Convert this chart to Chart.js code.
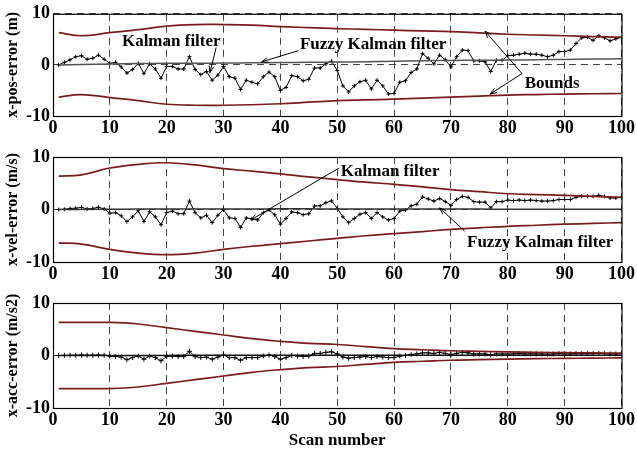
<!DOCTYPE html>
<html>
<head>
<meta charset="utf-8">
<script src="https://cdn.jsdelivr.net/npm/chart.js@4.4.0/dist/chart.umd.min.js"></script>
<style>
  body { margin: 0; background: #fff; }
  .panel { position: absolute; left: 0; width: 637px; }
</style>
</head>
<body>
<div class="panel" style="top:0;height:140px"><canvas id="pos"></canvas></div>
<div class="panel" style="top:140px;height:145px"><canvas id="vel"></canvas></div>
<div class="panel" style="top:285px;height:166px"><canvas id="acc"></canvas></div>
<script>
// scan index of every filter sample
var scans = [1,2,3,4,5,6,7,8,9,10,11,12,13,14,15,16,17,18,19,20,
  21,22,23,24,25,26,27,28,29,30,31,32,33,34,35,36,37,38,39,40,
  41,42,43,44,45,46,47,48,49,50,51,52,53,54,55,56,57,58,59,60,
  61,62,63,64,65,66,67,68,69,70,71,72,73,74,75,76,77,78,79,80,
  81,82,83,84,85,86,87,88,89,90,91,92,93,94,95,96,97,98,99,100];

// bounds and fuzzy estimates are smooth, sampled every 5 scans
var boundScans = [1,5,10,15,20,25,30,35,40,45,50,55,60,65,70,75,80,85,90,95,100];

var xTicks = [0,10,20,30,40,50,60,70,80,90,100];
var yTicks = [-10,0,10];

// position error (m)
var posKalman = [0,0.5,1.0,1.6,1.8,1.1,1.3,1.9,1.1,0.3,0.5,-0.4,-1.6,-0.9,0.3,-1.7,0.2,-0.8,-2.6,-0.3,
  -0.3,-0.8,-0.8,1.6,-0.9,-1.9,-1.3,-3.0,-2.0,-0.3,-2.3,-2.6,-4.8,-3.0,-3.4,-3.7,-2.3,-1.4,-2.3,-5.0,
  -4.4,-2.1,-2.3,-3.1,-2.8,-0.6,-0.6,0.2,0.7,-1.1,-4.1,-5.3,-4.1,-3.3,-3.0,-4.7,-3.0,-4.1,-5.7,-5.6,
  -3.4,-3.1,-1.5,-0.8,2.2,1.3,0.2,1.9,1.0,-0.4,1.6,2.9,2.8,0.8,0.8,0.6,-1.3,0.9,0.9,1.8,
  1.9,2.1,2.3,2.1,2.1,1.9,1.6,1.9,2.6,2.6,2.9,4.2,5.3,5.4,4.8,5.7,5.3,4.7,5.1,5.4];
var posFuzzy = [0,0.08,0.18,0.25,0.3,0.33,0.35,0.4,0.45,0.5,0.55,0.62,0.7,0.8,0.88,0.92,0.95,1.0,1.08,1.15,1.2];
var posUpper = [6.3,5.7,6.3,6.9,7.6,7.9,7.9,7.8,7.5,7.3,7.1,6.95,6.8,6.65,6.5,6.25,6.0,5.85,5.7,5.55,5.4];
var posLower = [-6.3,-5.8,-6.4,-7.0,-7.7,-7.9,-7.9,-7.8,-7.6,-7.3,-7.0,-6.85,-6.7,-6.5,-6.3,-6.1,-5.9,-5.8,-5.7,-5.65,-5.6];

// velocity error (m/s)
var velKalman = [0,0.05,0.2,0.25,0.4,0.1,0.2,0.45,0.1,-0.7,-0.6,-1.2,-2.3,-1.4,-0.25,-2.3,-0.45,-1.4,-2.9,-0.6,
  -0.3,-0.8,-0.8,1.6,-0.6,-1.6,-1.1,-2.5,-1.1,0,-1.6,-1.7,-3.4,-1.6,-1.8,-2.0,-0.6,-0.1,-1.0,-2.8,
  -1.7,-0.45,-0.6,-1.0,-0.8,0.65,0.7,1.3,1.65,0.2,-1.4,-2.5,-1.7,-0.9,-0.6,-1.7,-0.6,-1.4,-2.0,-1.7,
  -0.3,-0.1,0.7,1.0,2.4,2.0,1.6,2.1,1.5,0.8,1.9,2.5,2.3,1.5,1.4,1.4,0.3,1.5,1.5,1.8,
  1.7,1.8,1.7,1.8,1.7,1.6,1.6,1.7,1.9,1.9,1.9,2.35,2.5,2.5,2.5,2.7,2.5,2.2,2.2,2.35];
var velFuzzy = [0,0.02,0.05,0.08,0.1,0.1,0.1,0.1,0.12,0.12,0.1,0.1,0.1,0.08,0.08,0.08,0.05,0.05,0.05,0.05,0.05];
var velUpper = [6.35,6.6,7.9,8.6,8.9,8.5,7.8,7.3,6.8,6.2,5.7,5.2,4.8,4.3,3.8,3.4,3.0,2.85,2.7,2.5,2.3];
var velLower = [-6.35,-6.6,-7.6,-8.3,-8.6,-8.3,-7.6,-7.0,-6.5,-6.0,-5.5,-5.0,-4.6,-4.2,-3.8,-3.5,-3.2,-3.0,-2.8,-2.65,-2.5];

// acceleration error (m/s2)
var accKalman = [0,0.02,0.05,0.05,0.1,0.05,0.05,0.1,0.05,-0.1,-0.2,-0.3,-0.8,-0.4,-0.1,-0.7,-0.1,-0.4,-1.0,-0.2,
  -0.1,-0.2,-0.2,0.8,-0.2,-0.4,-0.3,-0.7,-0.3,0.1,-0.4,-0.4,-0.9,-0.4,-0.4,-0.4,-0.1,0.1,-0.2,-0.7,
  -0.4,0,-0.1,-0.2,-0.1,0.4,0.4,0.6,0.7,0.3,-0.3,-0.5,-0.4,-0.3,-0.2,-0.4,-0.2,-0.3,-0.4,-0.4,
  -0.1,0,0.2,0.3,0.5,0.5,0.4,0.6,0.4,0.2,0.4,0.6,0.5,0.3,0.3,0.3,0.1,0.3,0.3,0.3,
  0.3,0.35,0.3,0.3,0.3,0.3,0.25,0.3,0.35,0.3,0.3,0.35,0.35,0.35,0.35,0.4,0.35,0.3,0.3,0.35];
var accFuzzy = [0,0,0,0.02,0.02,0.03,0.03,0.05,0.05,0.05,0.05,0.05,0.05,0.05,0.05,0.05,0.05,0.05,0.05,0.05,0.05];
var accUpper = [6.3,6.3,6.3,6.0,5.3,4.6,3.9,3.2,2.7,2.3,2.1,1.7,1.3,1.1,0.9,0.8,0.7,0.6,0.55,0.5,0.45];
var accLower = [-6.3,-6.3,-6.3,-6.0,-5.3,-4.6,-3.9,-3.2,-2.7,-2.3,-2.1,-1.7,-1.3,-1.1,-0.9,-0.8,-0.7,-0.6,-0.55,-0.5,-0.45];

var serif = '"Liberation Serif", "Times New Roman", serif';
var boundColor = '#7a1c1c';

function pts(xs, ys) {
  return ys.map(function(v, i) { return {x: xs[i], y: v}; });
}

// frame around the plot area, text labels and arrows (given in data units)
var notesPlugin = {
  id: 'notes',
  afterDraw: function(chart) {
    var o = chart.options.plugins.notes || {};
    var ctx = chart.ctx, a = chart.chartArea;
    var sx = chart.scales.x, sy = chart.scales.y;
    ctx.save();
    ctx.strokeStyle = '#000';
    ctx.lineWidth = 1.2;
    ctx.strokeRect(a.left + 0.5, a.top + 0.5, a.right - a.left, a.bottom - a.top);
    ctx.lineWidth = 1;
    (o.arrows || []).forEach(function(ar) {
      var x1 = sx.getPixelForValue(ar[0]), y1 = sy.getPixelForValue(ar[1]);
      var x2 = sx.getPixelForValue(ar[2]), y2 = sy.getPixelForValue(ar[3]);
      var ang = Math.atan2(y2 - y1, x2 - x1);
      ctx.beginPath();
      ctx.moveTo(x1, y1);
      ctx.lineTo(x2, y2);
      ctx.moveTo(x2 - 7 * Math.cos(ang - 0.35), y2 - 7 * Math.sin(ang - 0.35));
      ctx.lineTo(x2, y2);
      ctx.lineTo(x2 - 7 * Math.cos(ang + 0.35), y2 - 7 * Math.sin(ang + 0.35));
      ctx.stroke();
    });
    ctx.font = 'bold 17px ' + serif;
    ctx.fillStyle = '#000';
    ctx.textAlign = 'center';
    ctx.textBaseline = 'middle';
    (o.labels || []).forEach(function(l) {
      ctx.fillText(l[0], sx.getPixelForValue(l[1]), sy.getPixelForValue(l[2]));
    });
    ctx.restore();
  }
};

function makeChart(id, c) {
  var datasets = [
    {data: pts(boundScans, c.upper), borderColor: boundColor, borderWidth: 1.7, pointRadius: 0, tension: 0.4},
    {data: pts(boundScans, c.lower), borderColor: boundColor, borderWidth: 1.7, pointRadius: 0, tension: 0.4},
    {data: pts(boundScans, c.fuzzy), borderColor: c.fuzzyColor, borderWidth: 1.5, pointRadius: 0, tension: 0.4},
    {data: pts(scans, c.kalman), borderColor: '#000', borderWidth: 1, pointStyle: 'cross',
     pointRadius: c.markerSize, pointBorderColor: '#000', pointBorderWidth: 1}
  ];
  return new Chart(document.getElementById(id), {
    type: 'scatter',
    data: {datasets: datasets},
    options: {
      responsive: true,
      maintainAspectRatio: false,
      animation: false,
      showLine: true,
      layout: {padding: {top: c.padTop, right: 12, left: 0, bottom: 0}},
      plugins: {
        legend: {display: false},
        tooltip: {enabled: false},
        notes: {labels: c.labels, arrows: c.arrows}
      },
      scales: {
        x: {
          type: 'linear', min: 0, max: 100,
          afterBuildTicks: function(s) { s.ticks = xTicks.map(function(v) { return {value: v}; }); },
          afterFit: function(s) { s.height = c.xHeight; },
          ticks: {color: '#000', padding: 2, maxRotation: 0, font: {family: serif, size: 18, weight: 'bold'}},
          grid: {color: '#444', lineWidth: 1, drawTicks: false},
          border: {display: false, dash: [7, 5]},
          title: {display: !!c.xTitle, text: c.xTitle, color: '#000', padding: {top: 3, bottom: 0},
                  font: {family: serif, size: 17, weight: 'bold'}}
        },
        y: {
          min: -10, max: 10,
          afterBuildTicks: function(s) { s.ticks = yTicks.map(function(v) { return {value: v}; }); },
          afterFit: function(s) { s.width = 53; },
          ticks: {color: '#000', padding: 3, font: {family: serif, size: 18, weight: 'bold'}},
          grid: {color: '#444', lineWidth: 1, drawTicks: false},
          border: {display: false, dash: [7, 5]},
          title: {display: true, text: c.yTitle, color: '#000', padding: {top: 3, bottom: 0},
                  font: {family: serif, size: 16, weight: 'bold'}}
        }
      }
    },
    plugins: [notesPlugin]
  });
}

makeChart('pos', {
  kalman: posKalman, fuzzy: posFuzzy, upper: posUpper, lower: posLower,
  fuzzyColor: '#555', markerSize: 2, yTitle: 'x-pos-error (m)', padTop: 10, xHeight: 24,
  labels: [['Kalman filter', 20.8, 4.5], ['Fuzzy Kalman filter', 56.3, 4.0], ['Bounds', 87.8, -3.6]],
  arrows: [[28.7, 3.4, 27.6, -1.5], [43.2, 2.8, 36.7, 0.6], [82.5, -1.7, 76, 6.6], [82.5, -1.7, 76.9, -5.7]]
});

makeChart('vel', {
  kalman: velKalman, fuzzy: velFuzzy, upper: velUpper, lower: velLower,
  fuzzyColor: '#333', markerSize: 2, yTitle: 'x-vel-error (m/s)', padTop: 17, xHeight: 23,
  labels: [['Kalman filter', 59.3, 7.3], ['Fuzzy Kalman filter', 85.7, -6.4]],
  arrows: [[50.3, 7.9, 34.8, -2.0], [72.4, -4.1, 68, 0.3]]
});

makeChart('acc', {
  kalman: accKalman, fuzzy: accFuzzy, upper: accUpper, lower: accLower,
  fuzzyColor: '#111', markerSize: 2.5, yTitle: 'x-acc-error (m/s2)', padTop: 18, xHeight: 43,
  xTitle: 'Scan number', labels: [], arrows: []
});
</script>
</body>
</html>
